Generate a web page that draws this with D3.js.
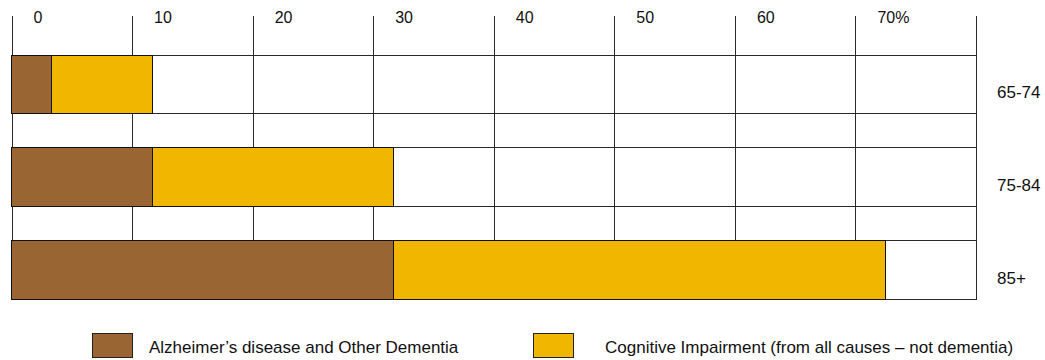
<!DOCTYPE html>
<html>
<head>
<meta charset="utf-8">
<script src="https://cdn.jsdelivr.net/npm/d3@7"></script>
<style>
  html, body { margin: 0; padding: 0; background: #fff; }
  svg { display: block; font-family: "Liberation Sans", Arial, sans-serif; }
</style>
</head>
<body>
<svg id="chart" width="1045" height="360"></svg>
<script>
// Age groups and prevalence (%) by condition
const ageGroups = ["65-74", "75-84", "85+"];
const dementia = [3.3, 11.7, 31.7];
const cognitive = [8.4, 20.0, 40.8];
const seriesNames = [
  "Alzheimer\u2019s disease and Other Dementia",
  "Cognitive Impairment (from all causes \u2013 not dementia)"
];
const tickValues = [0, 10, 20, 30, 40, 50, 60, 70, 80];
const tickLabels = ["0", "10", "20", "30", "40", "50", "60", "70%", ""];

const colors = ["#996633", "#F0B600"];
const lineColor = "#2a2a2a";

const svg = d3.select("#chart");
const plotLeft = 11.5, plotRight = 976, plotTop = 55, plotBottom = 299, tickTop = 16;

const x = d3.scaleLinear().domain([0, 80]).range([plotLeft, plotRight]);
const y = d3.scaleBand().domain(ageGroups).range([plotTop, plotBottom])
  .paddingInner(0.373).paddingOuter(0);

// Row frames spanning the full width
svg.append("g").selectAll("rect")
  .data(ageGroups)
  .join("rect")
  .attr("x", x(0))
  .attr("y", d => y(d))
  .attr("width", x(80) - x(0))
  .attr("height", y.bandwidth())
  .attr("fill", "#fff")
  .attr("stroke", lineColor)
  .attr("stroke-width", 1)
  .attr("shape-rendering", "crispEdges");

// Vertical gridlines / tick marks
svg.append("g").selectAll("line")
  .data(tickValues)
  .join("line")
  .attr("x1", d => Math.round(x(d)) + 0.5)
  .attr("x2", d => Math.round(x(d)) + 0.5)
  .attr("y1", tickTop)
  .attr("y2", plotBottom)
  .attr("stroke", lineColor)
  .attr("stroke-width", 1);

// Stacked bars
const stackData = ageGroups.map((g, i) => ({ group: g, parts: [dementia[i], cognitive[i]] }));
const barG = svg.append("g");
stackData.forEach(row => {
  let start = 0;
  row.parts.forEach((v, k) => {
    barG.append("rect")
      .attr("x", x(start))
      .attr("y", y(row.group))
      .attr("width", x(start + v) - x(start))
      .attr("height", y.bandwidth())
      .attr("fill", colors[k])
      .attr("stroke", "#111")
      .attr("stroke-width", 1)
      .attr("shape-rendering", "crispEdges");
    start += v;
  });
});

// Top axis labels
svg.append("g").selectAll("text")
  .data(tickValues.map((v, i) => ({ v, label: tickLabels[i] })))
  .join("text")
  .attr("x", d => x(d.v) + 22)
  .attr("y", 23)
  .attr("font-size", 16)
  .attr("fill", "#111")
  .text(d => d.label);

// Age group labels on the right
svg.append("g").selectAll("text")
  .data(ageGroups)
  .join("text")
  .attr("x", 997)
  .attr("y", d => y(d) + y.bandwidth() / 2 + 14)
  .attr("font-size", 17)
  .attr("fill", "#111")
  .text(d => d);

// Legend
const legendBoxX = [92, 533];
const legendTextX = [149, 605];
const legend = svg.append("g");
seriesNames.forEach((name, i) => {
  legend.append("rect")
    .attr("x", legendBoxX[i] + 0.5)
    .attr("y", 333.5)
    .attr("width", 40)
    .attr("height", 24)
    .attr("fill", colors[i])
    .attr("stroke", "#222")
    .attr("stroke-width", 1);
  legend.append("text")
    .attr("x", legendTextX[i])
    .attr("y", 353)
    .attr("font-size", 17)
    .attr("fill", "#111")
    .text(name);
});
</script>
</body>
</html>
